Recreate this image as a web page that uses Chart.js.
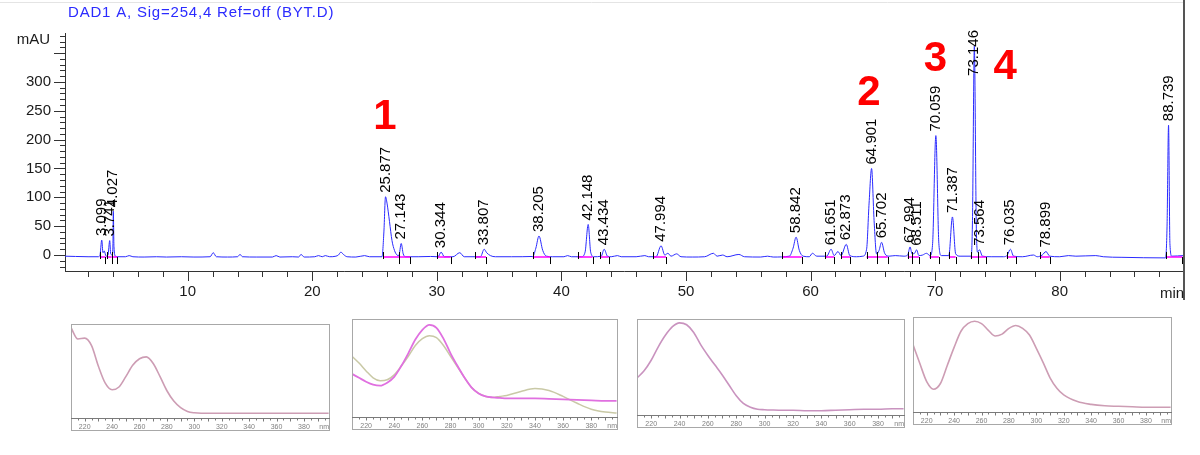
<!DOCTYPE html>
<html><head><meta charset="utf-8">
<script src="https://cdn.jsdelivr.net/npm/chart.js@4.4.1/dist/chart.umd.min.js"></script>
<style>
html,body{margin:0;padding:0;background:#fff;width:1200px;height:455px;overflow:hidden;}
canvas{position:absolute;display:block;}
</style></head><body>
<canvas id="main" width="1200" height="305" style="left:0;top:0;width:1200px;height:305px"></canvas>
<canvas id="s1" width="259" height="107" style="left:71px;top:324px;width:259px;height:107px"></canvas>
<canvas id="s2" width="266" height="111" style="left:352px;top:319px;width:266px;height:111px"></canvas>
<canvas id="s3" width="268" height="109" style="left:637px;top:319px;width:268px;height:109px"></canvas>
<canvas id="s4" width="259" height="108" style="left:913px;top:317px;width:259px;height:108px"></canvas>
<script>
const FONT = 'Arial, "Liberation Sans", sans-serif';

// ---------- chromatogram data ----------
const chartTitle = 'DAD1 A, Sig=254,4 Ref=off (BYT.D)';
const retentionTimes = [
  0.15, 1.0, 2.0, 2.8, 2.95, 3.1, 3.2, 3.3, 3.45, 3.6,
  3.74, 3.82, 3.95, 4.0, 4.03, 4.08, 4.2, 4.4, 5.0, 5.3,
  5.6, 6.5, 7.5, 8.3, 9.5, 10.5, 11.8, 12.05, 12.3, 13.2,
  14.0, 14.2, 14.4, 15.5, 16.8, 17.1, 17.4, 18.4, 18.9, 19.1,
  19.35, 20.2, 20.5, 20.8, 21.05, 21.4, 21.9, 22.1, 22.3, 22.5,
  22.8, 23.5, 24.2, 24.6, 25.6, 25.75, 25.88, 26.0, 26.2, 26.4,
  26.6, 26.8, 26.95, 27.14, 27.3, 27.5, 28.5, 29.5, 30.1, 30.34,
  30.6, 31.3, 31.84, 32.2, 33.5, 33.8, 34.0, 34.3, 34.7, 36.0,
  37.7, 37.95, 38.2, 38.5, 38.8, 39.3, 40.2, 40.5, 40.8, 41.6,
  41.9, 42.15, 42.35, 42.6, 43.2, 43.43, 43.7, 44.0, 44.5, 44.8,
  46.0, 46.7, 47.0, 47.6, 48.0, 48.3, 48.55, 48.8, 49.25, 49.6,
  50.5, 51.5, 52.2, 52.5, 52.95, 53.3, 54.25, 54.7, 56.0, 56.55,
  57.0, 58.3, 58.6, 58.84, 59.1, 59.4, 59.9, 60.15, 60.5, 61.3,
  61.65, 61.9, 62.2, 62.45, 62.87, 63.15, 63.7, 64.2, 64.5, 64.7,
  64.9, 65.1, 65.3, 65.5, 65.7, 65.95, 66.3, 66.8, 67.5, 67.8,
  67.99, 68.15, 68.35, 68.51, 68.7, 69.0, 69.3, 69.6, 69.8, 70.06,
  70.3, 70.5, 71.1, 71.39, 71.65, 72.0, 72.9, 73.0, 73.15, 73.3,
  73.4, 73.56, 73.8, 74.5, 75.5, 75.8, 76.04, 76.3, 77.0, 77.9,
  78.2, 78.6, 78.9, 79.2, 80.0, 80.7, 81.3, 82.9, 83.5, 85.0,
  88.5, 88.62, 88.74, 88.85, 89.0, 89.9
];
const absorbance = [
  -2, -2.5, -3, -3, -1, 26, 4, 7, -2, 0,
  25, 2, 0, 20, 76, 15, -2, -3, -3, -1,
  -3, -3.5, -3, -3.5, -3, -3.5, -3, 4, -3, -3.5,
  -3, 1, -3, -3.5, -3.5, -1, -3.5, -3, -3.5, 1,
  -3.5, -3, -1, -3, -1, -3, -2, 0, 5, 1,
  -3, -3.5, -1, -3, -3, 40, 101, 90, 58, 25,
  8, 0, -1, 20, 2, -3, -3, -2.5, -3, 5,
  -3, -3, 4, -3, -3, 10, 4, -1, -3, -3,
  -2.5, 12, 33, 8, -2, -3, -3, -1, -3, -3,
  5, 53, 5, -3, -2, 10, -2, -3, -1, -3,
  -3, -1, -3, -3, 16, 0, 3, -2, 2, -3,
  -3.5, -3, 3, -2, 0, -3, 1, -3, -3.5, -2,
  -3.5, -2, 12, 31, 8, -2, -3, 3, -2, -2,
  10, -1, 6, -1, 18.5, -1, -3, -2, 10, 90,
  150, 60, 2, 8, 22, 3, -2, -1, -2, 0,
  14, 2, 3, 9, -1, 0, 3, -1, 20, 207,
  20, -1, -1, 66, 2, -2, -2, 60, 362, 60,
  5, 9, -2, -3, -3, 0, 10, -2, -3, 0,
  -3, 0, 6, -2, -3, -1, -2, -1, -3, -4,
  -5, 50, 225, 20, -2, -1
];
// integrated peaks
const peakLabels = ['3.099','3.741','4.027','25.877','27.143','30.344','33.807','38.205','42.148','43.434','47.994','58.842','61.651','62.873','64.901','65.702','67.994','68.511','70.059','71.387','73.146','73.564','76.035','78.899','88.739'];
const peakRT     = [3.099, 3.741, 4.027, 25.877, 27.143, 30.344, 33.807, 38.205, 42.148, 43.434, 47.994, 58.842, 61.651, 62.873, 64.901, 65.702, 67.994, 68.511, 70.059, 71.387, 73.146, 73.564, 76.035, 78.899, 88.739];
const peakHeight = [26, 25, 76, 101, 20, 5, 10, 33, 53, 10, 16, 31, 10, 18.5, 150, 22, 14, 9, 207, 66, 362, 9, 10, 6, 225];
const peakStart  = [2.95, 3.5, 3.96, 25.68, 26.96, 30.04, 33.1, 37.7, 41.3, 43.1, 47.35, 57.7, 61.2, 62.46, 64.5, 65.3, 67.8, 68.15, 69.55, 71.1, 72.85, 73.43, 75.75, 78.45, 88.55];
const peakEnd    = [3.4, 3.9, 4.35, 26.96, 27.87, 31.1, 33.95, 39.1, 42.5, 43.8, 48.4, 59.3, 61.9, 63.2, 65.3, 66.2, 68.15, 68.7, 70.3, 71.65, 73.43, 74.1, 76.5, 79.2, 89.85];
const baselineLevel = -3.5;
const compoundNames = ['1', '2', '3', '4'];
const compoundRT = [25.877, 64.901, 70.059, 73.146];
const xTickLabels = [10, 20, 30, 40, 50, 60, 70, 80];
const yTickLabels = [0, 50, 100, 150, 200, 250, 300];

// ---------- UV spectra data (normalised absorbance) ----------
const specWavelengths = [210,215,220,225,230,235,240,245,250,255,260,265,270,275,280,285,290,295,300,305,310,315,320,330,340,350,360,370,380,390,398];
const spectrum1 = [.96,.84,.85,.77,.55,.37,.30,.33,.44,.56,.63,.65,.58,.44,.29,.18,.11,.07,.055,.05,.05,.05,.05,.05,.05,.05,.05,.05,.05,.05,.05];
const spectrum2a = [.44,.40,.36,.33,.32,.35,.41,.52,.65,.79,.89,.94,.91,.80,.65,.52,.40,.30,.24,.21,.20,.195,.19,.19,.19,.185,.18,.175,.17,.165,.165];
const spectrum2b = [.62,.55,.47,.40,.37,.38,.43,.52,.62,.73,.80,.83,.81,.73,.62,.51,.40,.30,.24,.21,.20,.21,.22,.26,.29,.27,.21,.14,.08,.05,.04];
const spectrum3 = [.385,.46,.57,.71,.83,.92,.96,.94,.86,.73,.62,.52,.42,.31,.20,.12,.08,.06,.055,.052,.05,.05,.05,.045,.045,.05,.055,.06,.06,.065,.065];
const spectrum4 = [.71,.51,.32,.24,.30,.49,.68,.85,.93,.955,.93,.86,.80,.82,.88,.91,.88,.81,.67,.52,.36,.25,.18,.11,.08,.065,.06,.055,.05,.05,.05];
const specTickLabels = [220,240,260,280,300,320,340,360,380];

// ---------- chromatogram ----------
const tracePoints = retentionTimes.map((t, i) => ({x: t, y: absorbance[i]}));
const basePoints = [];
peakStart.forEach((s, i) => {
  basePoints.push({x: s, y: baselineLevel}, {x: peakEnd[i], y: baselineLevel}, {x: peakEnd[i] + 0.001, y: null});
});

const chromPlugin = {
  id: 'chrom',
  afterDraw(chart, args, opts) {
    const {ctx, chartArea: a} = chart;
    const xs = chart.scales.x, ys = chart.scales.y;
    ctx.save();
    // frame
    ctx.strokeStyle = '#e4e4e4'; ctx.lineWidth = 1;
    ctx.beginPath(); ctx.moveTo(0, 2.5); ctx.lineTo(a.right, 2.5); ctx.stroke();
    ctx.strokeStyle = '#555'; ctx.lineWidth = 2;
    ctx.beginPath(); ctx.moveTo(a.right + 1, 0); ctx.lineTo(a.right + 1, 300); ctx.stroke();
    // axis tick marks
    ctx.strokeStyle = '#333'; ctx.lineWidth = 1; ctx.beginPath();
    for (let v = -20; v <= 380; v += 10) {
      const py = Math.round(ys.getPixelForValue(v)) + 0.5;
      const len = (v % 50 === 0) ? 11 : 5;
      ctx.moveTo(a.left - len, py); ctx.lineTo(a.left, py);
    }
    for (let t = 2; t <= 88; t += 2) {
      const px = Math.round(xs.getPixelForValue(t)) + 0.5;
      const len = (t % 10 === 0) ? 10 : 6;
      ctx.moveTo(px, a.bottom); ctx.lineTo(px, a.bottom + len);
    }
    ctx.stroke();
    // integration markers
    const by = ys.getPixelForValue(baselineLevel);
    ctx.strokeStyle = '#000'; ctx.beginPath();
    peakStart.forEach(s => { const px = Math.round(xs.getPixelForValue(s)) + 0.5; ctx.moveTo(px, by - 5); ctx.lineTo(px, by + 2); });
    peakEnd.forEach(e => { const px = Math.round(xs.getPixelForValue(Math.min(e, 89.8))) + 0.5; ctx.moveTo(px, by); ctx.lineTo(px, by + 7); });
    ctx.stroke();
    // peak retention time labels
    ctx.fillStyle = '#000'; ctx.font = '15px ' + FONT;
    ctx.textAlign = 'left'; ctx.textBaseline = 'middle';
    peakLabels.forEach((txt, i) => {
      const px = xs.getPixelForValue(peakRT[i]);
      let py = ys.getPixelForValue(peakHeight[i]) - 4;
      const w = ctx.measureText(txt).width;
      if (py - w < 30) py = 30 + w;
      ctx.save(); ctx.translate(px, py); ctx.rotate(-Math.PI / 2); ctx.fillText(txt, 0, 0); ctx.restore();
    });
    // title and axis units
    ctx.textBaseline = 'alphabetic';
    ctx.fillStyle = '#2b2bff'; ctx.font = '15px ' + FONT; ctx.textAlign = 'left';
    try { ctx.letterSpacing = '0.8px'; } catch (e) {}
    ctx.fillText(chartTitle, 68, 16.5);
    try { ctx.letterSpacing = '0px'; } catch (e) {}
    ctx.fillStyle = '#1a1a1a'; ctx.font = '15px ' + FONT;
    ctx.textAlign = 'right'; ctx.fillText('mAU', 50, 44);
    ctx.textAlign = 'left'; ctx.fillText('min', 1160, 297.5);
    // compound numbers
    ctx.fillStyle = '#ff0000'; ctx.font = 'bold 42px ' + FONT; ctx.textAlign = 'center';
    opts.marks.forEach((m, i) => {
      ctx.fillText(compoundNames[i], xs.getPixelForValue(compoundRT[i] + m.dt), ys.getPixelForValue(m.y));
    });
    ctx.restore();
  }
};

new Chart(document.getElementById('main'), {
  type: 'line',
  data: {datasets: [
    {data: basePoints, borderColor: '#ff00ff', borderWidth: 1.5, pointRadius: 0, spanGaps: false, order: 0},
    {data: tracePoints, borderColor: '#2a2aff', borderWidth: 1, pointRadius: 0, cubicInterpolationMode: 'monotone', order: 1}
  ]},
  options: {
    responsive: false, animation: false, events: [],
    layout: {padding: {top: 33, right: 17, left: 0, bottom: 0}},
    plugins: {
      legend: {display: false}, tooltip: {enabled: false}, title: {display: false},
      chrom: {marks: [{dt: -0.04, y: 218}, {dt: -0.22, y: 260}, {dt: -0.03, y: 319}, {dt: 2.48, y: 304.5}]}
    },
    scales: {
      x: {
        type: 'linear', min: 0.15, max: 89.9,
        grid: {display: false, drawTicks: false},
        border: {display: true, color: '#333', width: 1},
        afterBuildTicks: s => { s.ticks = xTickLabels.map(v => ({value: v})); },
        ticks: {font: {family: FONT, size: 15}, color: '#1a1a1a', padding: 12, maxRotation: 0, autoSkip: false},
        afterFit: s => { s.height = 34; }
      },
      y: {
        type: 'linear', min: -27.7, max: 384.8,
        grid: {display: false, drawTicks: false},
        border: {display: true, color: '#333', width: 1},
        afterBuildTicks: s => { s.ticks = yTickLabels.map(v => ({value: v})); },
        ticks: {font: {family: FONT, size: 15}, color: '#1a1a1a', padding: 14, autoSkip: false},
        afterFit: s => { s.width = 65; }
      }
    }
  },
  plugins: [chromPlugin]
});

// ---------- spectra ----------
const specPlugin = {
  id: 'spec',
  afterDraw(chart) {
    const {ctx, chartArea: a} = chart;
    const xs = chart.scales.x;
    const W = chart.width, H = chart.height;
    ctx.save();
    ctx.strokeStyle = '#a8a8a8'; ctx.lineWidth = 1;
    ctx.strokeRect(0.5, 0.5, W - 1, H - 1);
    const ay = Math.round(a.bottom) + 0.5;
    ctx.strokeStyle = '#7a7a7a'; ctx.beginPath();
    ctx.moveTo(0, ay); ctx.lineTo(W, ay);
    for (let w = 215; w <= 395; w += 5) {
      const px = Math.round(xs.getPixelForValue(w)) + 0.5;
      const len = (w % 10 === 0) ? 3 : 2;
      ctx.moveTo(px, ay); ctx.lineTo(px, ay + len);
    }
    ctx.stroke();
    ctx.fillStyle = '#808080'; ctx.font = '7px ' + FONT;
    ctx.textAlign = 'center'; ctx.textBaseline = 'alphabetic';
    specTickLabels.forEach(v => ctx.fillText(String(v), xs.getPixelForValue(v), ay + 10));
    ctx.textAlign = 'right'; ctx.fillText('nm', W - 1, ay + 10);
    ctx.restore();
  }
};

function drawSpectrum(id, series, colors, widths) {
  new Chart(document.getElementById(id), {
    type: 'line',
    data: {datasets: series.map((vals, k) => ({
      data: specWavelengths.map((w, i) => ({x: w, y: vals[i]})),
      borderColor: colors[k], borderWidth: widths[k], pointRadius: 0,
      cubicInterpolationMode: 'monotone', order: k
    }))},
    options: {
      responsive: false, animation: false, events: [],
      layout: {padding: {left: 0, right: 0, top: 0, bottom: 13}},
      plugins: {legend: {display: false}, tooltip: {enabled: false}},
      scales: {x: {type: 'linear', min: 210, max: 399, display: false}, y: {min: 0, max: 1, display: false}}
    },
    plugins: [specPlugin]
  });
}
drawSpectrum('s1', [spectrum1], ['#cd9db4'], [1.6]);
drawSpectrum('s2', [spectrum2a, spectrum2b], ['#e070e0', '#c9c9a6'], [1.8, 1.5]);
drawSpectrum('s3', [spectrum3], ['#c993bf'], [1.6]);
drawSpectrum('s4', [spectrum4], ['#cd9db4'], [1.6]);
</script>
</body></html>
